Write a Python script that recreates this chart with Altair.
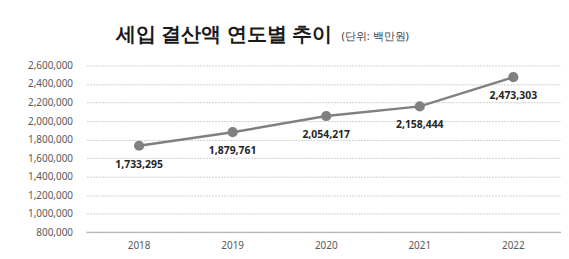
import altair as alt
import pandas as pd

years = ["2018", "2019", "2020", "2021", "2022"]
values = [1733295, 1879761, 2054217, 2158444, 2473303]
labels = ["1,733,295", "1,879,761", "2,054,217", "2,158,444", "2,473,303"]
y_ticks = [800000, 1000000, 1200000, 1400000, 1600000, 1800000, 2000000, 2200000, 2400000, 2600000]

df = pd.DataFrame({"year": years, "value": values, "label": labels})

FONT = "Noto Sans"
W, H = 478, 168
YSCALE = alt.Scale(domain=[800000, 2600000], nice=False, zero=False)

x = alt.X("year:N", title=None, sort=years,
          scale=alt.Scale(type="band", paddingInner=0, paddingOuter=0.036, align=0.87),
          axis=alt.Axis(labelAngle=0, domain=False, ticks=False, labelFontSize=10,
                        labelColor="#595959", labelFont=FONT, labelPadding=8, grid=False))
y = alt.Y("value:Q", title=None, scale=YSCALE,
          axis=alt.Axis(values=y_ticks, format=",d", domain=False, ticks=False,
                        labelFontSize=10, labelColor="#595959", labelFont=FONT,
                        labelPadding=14, labelOverlap=False, labelFlush=False,
                        gridColor="#d0d0d0", gridDash=[2, 1], gridWidth=1))

base = alt.Chart(df)

line = base.mark_line(color="#808080", strokeWidth=2.5).encode(x=x, y=y)
pts = base.mark_circle(color="#808080", size=105, opacity=1).encode(x=x, y=y)
txt = base.mark_text(font=FONT, fontSize=10.5, fontWeight="bold", color="#262626",
                     dy=19).encode(x=x, y=y, text="label:N")

baseline = alt.Chart(pd.DataFrame({"v": [0]})).mark_rule(
    color="#a6a6a6", strokeWidth=1).encode(
    x=alt.value(0), x2=alt.value(W), y=alt.value(H))

title_df = pd.DataFrame({"t": ["세입 결산액 연도별 추이"]})
title = alt.Chart(title_df).mark_text(font=FONT, fontSize=20, fontWeight="bold",
                                      color="#1a1a1a", align="left",
                                      baseline="alphabetic").encode(
    x=alt.value(30), y=alt.value(-25), text="t:N")
sub_df = pd.DataFrame({"t": ["(단위: 백만원)"]})
sub = alt.Chart(sub_df).mark_text(font=FONT, fontSize=11, color="#404040",
                                  align="left", baseline="alphabetic").encode(
    x=alt.value(257), y=alt.value(-26), text="t:N")

chart = alt.layer(line, pts, txt, baseline, title, sub).properties(
    width=W, height=H,
    autosize=alt.AutoSizeParams(type="none"),
    padding={"left": 79, "top": 57, "right": 0, "bottom": 18},
    background="white",
).configure_view(stroke=None)

chart.save("out.html", embed_options={"renderer": "svg", "actions": False})
